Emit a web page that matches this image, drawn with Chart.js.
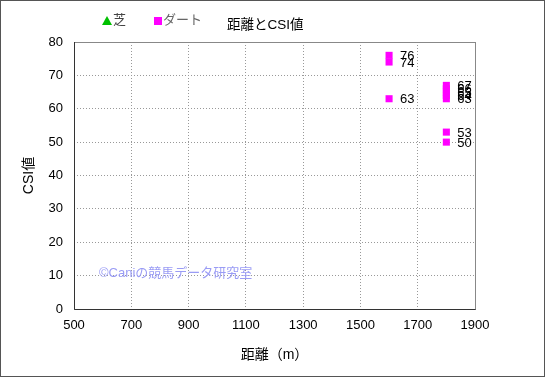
<!DOCTYPE html>
<html><head><meta charset="utf-8">
<script src="https://cdn.jsdelivr.net/npm/chart.js@4/dist/chart.umd.min.js"></script>
<style>
html,body{margin:0;padding:0;background:#fff;}
#wrap{position:relative;width:545px;height:377px;box-sizing:border-box;border:1px solid #555;}
canvas{position:absolute;left:0;top:0;}
.t{position:absolute;font-family:"Liberation Sans","Noto Sans CJK JP",sans-serif;white-space:nowrap;line-height:1;}
.mk{display:inline-block;vertical-align:-1px;margin-right:1px;}
</style></head>
<body>
<div id="wrap">
<canvas id="c" width="545" height="377"></canvas>
<div class="t" style="left:101px;top:12px;font-size:13px;color:#444;"><span class="mk" style="width:0;height:0;border-left:5px solid transparent;border-right:5px solid transparent;border-bottom:9px solid #00c000;"></span>芝</div>
<div class="t" style="left:153px;top:12px;font-size:13px;color:#666;"><span class="mk" style="width:8px;height:8px;background:#ff00ff;"></span>ダート</div>
<div class="t" style="left:226px;top:17px;font-size:13.5px;color:#000;">距離とCSI値</div>
<div class="t" style="left:98px;top:265px;font-size:13px;color:#9a9cf5;">©Caniの競馬データ研究室</div>
</div>
<script>
const shibaDist = [];
const shibaCSI = [];
const dirtDist = [1600, 1600, 1600, 1800, 1800, 1800, 1800, 1800, 1800, 1800];
const dirtCSI  = [76, 74, 63, 67, 66, 65, 64, 63, 53, 50];
const xTicks = [500, 700, 900, 1100, 1300, 1500, 1700, 1900];
const yTicks = [0, 10, 20, 30, 40, 50, 60, 70, 80];

const FONT = '"Liberation Sans","Noto Sans CJK JP",sans-serif';

const labelPlugin = {
  id: 'pointLabels',
  afterDatasetsDraw(chart) {
    const ctx = chart.ctx;
    ctx.save();
    ctx.font = '13px ' + FONT;
    ctx.fillStyle = '#000';
    ctx.textBaseline = 'middle';
    ctx.textAlign = 'left';
    chart.data.datasets.forEach((ds, i) => {
      const meta = chart.getDatasetMeta(i);
      meta.data.forEach((pt, j) => {
        ctx.fillText(String(ds.data[j].y), pt.x + 11, pt.y + 1);
      });
    });
    ctx.restore();
  }
};
const borderPlugin = {
  id: 'plotBorder',
  afterDraw(chart) {
    const a = chart.chartArea, ctx = chart.ctx;
    ctx.save();
    ctx.strokeStyle = '#888';
    ctx.lineWidth = 1;
    ctx.strokeRect(a.left + 0.5, a.top + 0.5, a.right - a.left, a.bottom - a.top);
    ctx.strokeStyle = '#333';
    ctx.beginPath();
    ctx.moveTo(a.left + 0.5, a.top);
    ctx.lineTo(a.left + 0.5, a.bottom + 0.5);
    ctx.lineTo(a.right + 0.5, a.bottom + 0.5);
    ctx.stroke();
    ctx.restore();
  }
};

new Chart(document.getElementById('c'), {
  type: 'scatter',
  data: {
    datasets: [
      { label: '芝', data: shibaDist.map((d, i) => ({x: d, y: shibaCSI[i]})),
        pointStyle: 'triangle', backgroundColor: '#00c000', borderColor: '#008000', pointRadius: 5 },
      { label: 'ダート', data: dirtDist.map((d, i) => ({x: d, y: dirtCSI[i]})),
        pointStyle: 'rect', backgroundColor: '#ff00ff', borderColor: '#ff00ff', borderWidth: 0, pointRadius: 5 }
    ]
  },
  options: {
    responsive: false,
    animation: false,
    devicePixelRatio: 1,
    layout: { padding: { top: 41, right: 71, left: 0, bottom: 0 } },
    plugins: { legend: { display: false }, tooltip: { enabled: false } },
    scales: {
      x: {
        type: 'linear', min: 500, max: 1900,
        afterBuildTicks: s => { s.ticks = xTicks.map(v => ({value: v})); },
        afterFit: s => { s.height = 69; },
        grid: { color: '#999', drawTicks: false, lineWidth: 1 },
        border: { display: false, dash: [1, 2] },
        ticks: { color: '#000', font: { family: FONT, size: 13 }, padding: 9, maxRotation: 0, callback: v => String(v) },
        title: { display: true, text: '距離（m）', color: '#000', font: { family: FONT, size: 14 }, padding: { top: 0, bottom: 14 } }
      },
      y: {
        type: 'linear', min: 0, max: 80,
        afterBuildTicks: s => { s.ticks = yTicks.map(v => ({value: v})); },
        afterFit: s => { s.width = 73; },
        grid: { color: '#999', drawTicks: false, lineWidth: 1 },
        border: { display: false, dash: [1, 2] },
        ticks: { color: '#000', font: { family: FONT, size: 13 }, padding: 11, callback: v => String(v) },
        title: { display: true, text: 'CSI値', color: '#000', font: { family: FONT, size: 14 }, padding: { top: 20, bottom: 0 } }
      }
    }
  },
  plugins: [labelPlugin, borderPlugin]
});
</script>
</body></html>
